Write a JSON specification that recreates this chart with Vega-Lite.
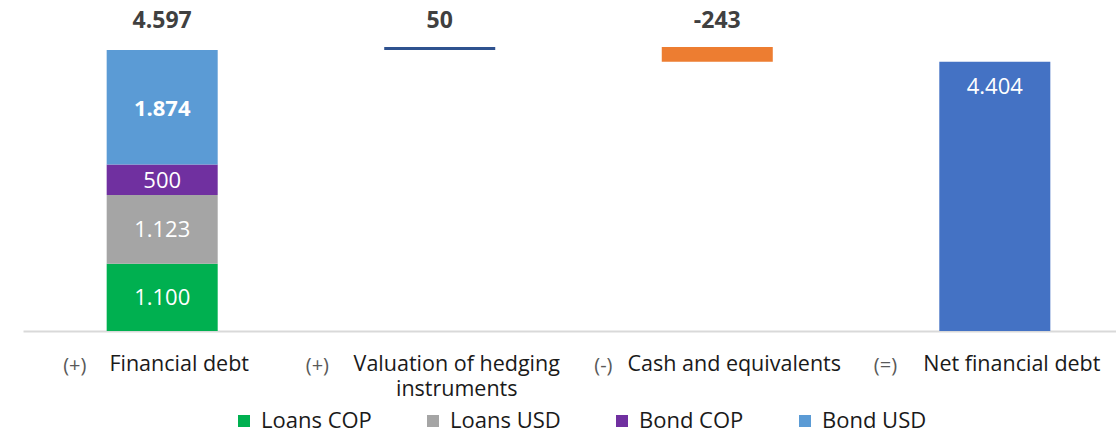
{
  "$schema": "https://vega.github.io/schema/vega-lite/v6.json",
  "width": 1093,
  "height": 331,
  "autosize": {"type": "none"},
  "padding": {"left": 23, "top": 0, "right": 0, "bottom": 103},
  "background": "white",
  "config": {"view": {"stroke": null}, "font": "Open Sans"},
  "data": {
    "values": [
      {"category": "Financial debt", "series": "Loans COP", "start": 0, "end": 1100, "label": "1.100"},
      {"category": "Financial debt", "series": "Loans USD", "start": 1100, "end": 2223, "label": "1.123"},
      {"category": "Financial debt", "series": "Bond COP", "start": 2223, "end": 2723, "label": "500"},
      {"category": "Financial debt", "series": "Bond USD", "start": 2723, "end": 4597, "label": "1.874", "top": "4.597"},
      {"category": "Valuation of hedging instruments", "series": "Hedging", "start": 4597, "end": 4647, "top": "50"},
      {"category": "Cash and equivalents", "series": "Cash", "start": 4404, "end": 4647, "top": "-243"},
      {"category": "Net financial debt", "series": "Net", "start": 0, "end": 4404, "label": "4.404"}
    ]
  },
  "resolve": {"axis": {"x": "independent"}},
  "layer": [
    {
      "mark": {"type": "bar"},
      "encoding": {
        "x": {
          "field": "category", "type": "nominal", "sort": null,
          "scale": {"range": [0, 1111], "paddingInner": 0.6, "paddingOuter": 0.3015},
          "axis": {
            "orient": "bottom", "title": null, "ticks": false, "grid": false,
            "domain": true, "domainColor": "#d9d9d9", "domainWidth": 2,
            "labelAngle": 0, "labelFontSize": 20, "labelColor": "#595959",
            "labelPadding": 24, "labelAlign": "left", "labelBaseline": "top", "labelLimit": 0,
            "labelExpr": "datum.value == 'Financial debt' ? '(+)' : datum.value == 'Valuation of hedging instruments' ? '(+)' : datum.value == 'Cash and equivalents' ? '(-)' : '(=)'",
            "labelOffset": {
              "condition": [
                {"test": "datum.value == 'Financial debt'", "value": -99},
                {"test": "datum.value == 'Valuation of hedging instruments'", "value": -134},
                {"test": "datum.value == 'Cash and equivalents'", "value": -123}
              ],
              "value": -121
            },
            "labelOverlap": false
          }
        },
        "y": {"field": "start", "type": "quantitative", "scale": {"domain": [0, 5415], "nice": false, "zero": false}, "axis": null},
        "y2": {"field": "end"},
        "color": {
          "field": "series", "type": "nominal",
          "scale": {
            "domain": ["Loans COP", "Loans USD", "Bond COP", "Bond USD", "Hedging", "Cash", "Net"],
            "range": ["#00B050", "#A5A5A5", "#7030A0", "#5B9BD5", "#2F528F", "#ED7D31", "#4472C4"]
          },
          "legend": {
            "values": ["Loans COP", "Loans USD", "Bond COP", "Bond USD"],
            "orient": "none", "direction": "horizontal", "legendX": 210, "legendY": 410,
            "title": null, "symbolType": "square", "symbolSize": 144, "symbolStrokeWidth": 0,
            "labelFontSize": 22, "labelColor": "#1a1a1a", "columnPadding": 50, "labelOffset": 6, "labelLimit": 0
          }
        }
      }
    },
    {
      "transform": [{"filter": "datum.series == 'Loans COP' || datum.series == 'Loans USD' || datum.series == 'Bond COP'"}, {"calculate": "(datum.start + datum.end) / 2", "as": "mid"}],
      "mark": {"type": "text", "color": "white", "fontSize": 22, "baseline": "middle", "dy": 1},
      "encoding": {
        "x": {
          "field": "category", "type": "nominal", "sort": null,
          "axis": {
            "orient": "bottom", "title": null, "ticks": false, "grid": false, "domain": false,
            "labelAngle": 0, "labelFontSize": 21.5, "labelColor": "#1a1a1a", "labelLimit": 0,
            "labelPadding": 22, "labelAlign": "center", "labelBaseline": "top", "labelLineHeight": 25,
            "labelExpr": "datum.value == 'Valuation of hedging instruments' ? ['Valuation of hedging', 'instruments'] : datum.value",
            "labelOffset": 17, "labelOverlap": false
          }
        },
        "y": {"field": "mid", "type": "quantitative"},
        "text": {"field": "label"}
      }
    },
    {
      "transform": [{"filter": "datum.series == 'Bond USD'"}, {"calculate": "(datum.start + datum.end) / 2", "as": "mid"}],
      "mark": {"type": "text", "color": "white", "fontSize": 22, "fontWeight": "bold", "baseline": "middle", "dy": 2},
      "encoding": {
        "x": {"field": "category", "type": "nominal", "sort": null, "axis": null},
        "y": {"field": "mid", "type": "quantitative"},
        "text": {"field": "label"}
      }
    },
    {
      "transform": [{"filter": "datum.series == 'Net'"}],
      "mark": {"type": "text", "color": "white", "fontSize": 22, "baseline": "middle", "dy": 25},
      "encoding": {
        "x": {"field": "category", "type": "nominal", "sort": null, "axis": null},
        "y": {"field": "end", "type": "quantitative"},
        "text": {"field": "label"}
      }
    },
    {
      "transform": [{"filter": "datum.top != null"}],
      "mark": {"type": "text", "color": "#404040", "fontSize": 23, "fontWeight": "bold", "baseline": "alphabetic"},
      "encoding": {
        "x": {"field": "category", "type": "nominal", "sort": null, "axis": null},
        "y": {"datum": 4952},
        "text": {"field": "top"}
      }
    }
  ]
}
